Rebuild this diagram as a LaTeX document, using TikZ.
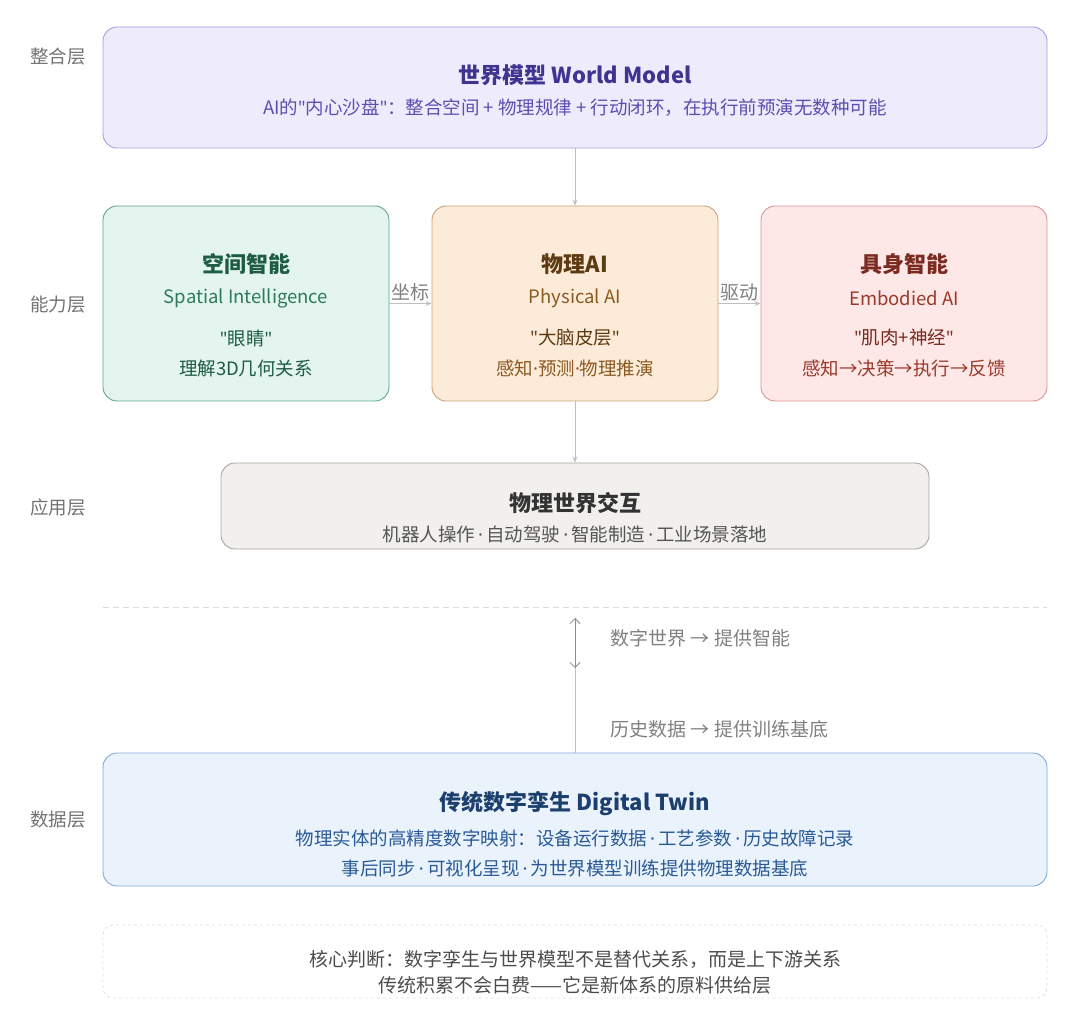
\documentclass[tikz,border=0pt]{standalone}
\usepackage{fontspec}
\setmainfont{Noto Sans CJK SC}
\newfontfamily\lat{Noto Sans}
\newcommand{\q}{{\lat"}}
\newcommand{\md}{{\lat\,·\,}}
\newcommand{\mdd}{{\lat·}}
\usetikzlibrary{arrows.meta}
\begin{document}
\begin{tikzpicture}[x=1pt,y=-1pt,
  box/.style={draw,rounded corners=14pt,line width=0.9pt},
  lay/.style={text=black!55,font=\fontsize{18.5}{20}\selectfont},
  ttl/.style={font=\fontsize{22}{26}\selectfont\bfseries},
  sub/.style={font=\fontsize{18.5}{22}\selectfont},
  con/.style={draw=black!25,line width=0.8pt,-{Stealth[length=6pt,width=5pt,open]}},
  lbl/.style={text=black!50,font=\fontsize{19}{22}\selectfont}]
\useasboundingbox (0,0) rectangle (1080,1016);
\definecolor{pf}{HTML}{EEEBFD}\definecolor{pd}{HTML}{A99CE0}\definecolor{pt}{HTML}{3F3590}\definecolor{ps}{HTML}{5B4FB0}
\definecolor{gf}{HTML}{E3F5EE}\definecolor{gd}{HTML}{5FA68A}\definecolor{gt}{HTML}{1E5C44}\definecolor{gs}{HTML}{2F7A5C}
\definecolor{of}{HTML}{FCEBD8}\definecolor{od}{HTML}{C9A27A}\definecolor{ot}{HTML}{5C3A12}\definecolor{os}{HTML}{8A5A22}
\definecolor{rf}{HTML}{FDE7E7}\definecolor{rd}{HTML}{D99494}\definecolor{rt}{HTML}{7A2A1E}\definecolor{rs}{HTML}{9A3A2A}
\definecolor{af}{HTML}{F1F0EC}\definecolor{ad}{HTML}{A8A69E}\definecolor{at}{HTML}{333333}\definecolor{as}{HTML}{555555}
\definecolor{bf}{HTML}{EAF3FC}\definecolor{bd}{HTML}{7FA8D6}\definecolor{bt}{HTML}{1C3F6E}\definecolor{bs}{HTML}{2A5A96}
% layer labels
\node[lay] (l1) at (58,57) {整合层};
\node[lay] (l2) at (58,305) {能力层};
\node[lay] (l3) at (58,507) {应用层};
\node[lay] (l4) at (58,820) {数据层};
% world model
\draw[box,fill=pf,draw=pd] (103,27) rectangle (1047,148);
\node (wm) at (575,87.5) [minimum width=944pt,minimum height=121pt] {};
\node[ttl,text=pt] (wmt) at (575,75) {世界模型 World Model};
\node[sub,text=ps] (wms) at (575,108) {AI的\q 内心沙盘\q ：整合空间 + 物理规律 + 行动闭环，在执行前预演无数种可能};
% three boxes
\node[box,fill=gf,draw=gd,minimum width=286pt,minimum height=195pt] (sp) at (246,303.5) {};
\node[box,fill=of,draw=od,minimum width=286pt,minimum height=195pt] (ph) at (575,303.5) {};
\node[box,fill=rf,draw=rd,minimum width=286pt,minimum height=195pt] (em) at (904,303.5) {};
\node[ttl,text=gt] at (246,264) {空间智能};
\node[sub,text=gs] at (246,298) {Spatial Intelligence};
\node[sub,text=gt] at (246,338) {\q 眼睛\q};
\node[sub,text=gt] at (246,368) {理解3D几何关系};
\node[ttl,text=ot] at (575,264) {物理AI};
\node[sub,text=os] at (575,298) {Physical AI};
\node[sub,text=ot] at (575,338) {\q 大脑皮层\q};
\node[sub,text=os] at (575,368) {感知\mdd 预测\mdd 物理推演};
\node[ttl,text=rt] at (904,264) {具身智能};
\node[sub,text=rs] at (904,298) {Embodied AI};
\node[sub,text=rt] at (904,338) {\q 肌肉+神经\q};
\node[sub,text=rs] at (904,368) {感知→决策→执行→反馈};
% application
\node[box,fill=af,draw=ad,minimum width=708pt,minimum height=86pt] (ap) at (575,506) {};
\node[ttl,text=at] at (575,503) {物理世界交互};
\node[sub,text=as] at (575,534) {机器人操作\md 自动驾驶\md 智能制造\md 工业场景落地};
% connectors
\draw[con] (wm.south) -- (ph.north);
\draw[con] (sp.east) -- node[lbl,above=-1pt] {坐标} (ph.west);
\draw[con] (ph.east) -- node[lbl,above=-1pt] {驱动} (em.west);
\draw[con] (ph.south) -- (ap.north);
% divider
\coordinate (d1) at (103,607); \coordinate (d2) at (1047,607);
\draw[black!15,dashed,dash pattern=on 6pt off 4pt] (d1) -- (d2);
% digital twin
\node[box,fill=bf,draw=bd,minimum width=944pt,minimum height=133pt] (dt) at (575,819.5) {};
\node[ttl,text=bt] at (575,804) {传统数字孪生 Digital Twin};
\node[sub,text=bs] at (575,838) {物理实体的高精度数字映射：设备运行数据\md 工艺参数\md 历史故障记录};
\node[sub,text=bs] at (575,868) {事后同步\md 可视化呈现\md 为世界模型训练提供物理数据基底};
% bidirectional
\coordinate (u1) at (575,618);
\coordinate (u2) at (575,668);
\draw[black!25,line width=0.8pt] (u1) -- (dt.north);
\draw[black!45,line width=0.8pt,{Straight Barb[length=5pt]}-{Straight Barb[length=5pt]}] (u1) -- (u2);
\node[lbl,anchor=west] at (607,638) {数字世界 → 提供智能};
\node[lbl,anchor=west] at (607,729) {历史数据 → 提供训练基底};
% bottom note
\node[draw=black!12,dashed,rounded corners=10pt,line width=0.8pt,minimum width=944pt,minimum height=73pt] (nt) at (575,961.5) {};
\node[text=black!70,font=\fontsize{19}{22}\selectfont] at (575,959) {核心判断：数字孪生与世界模型不是替代关系，而是上下游关系};
\node[text=black!70,font=\fontsize{19}{22}\selectfont] at (575,985) {传统积累不会白费——它是新体系的原料供给层};
\end{tikzpicture}
\end{document}
